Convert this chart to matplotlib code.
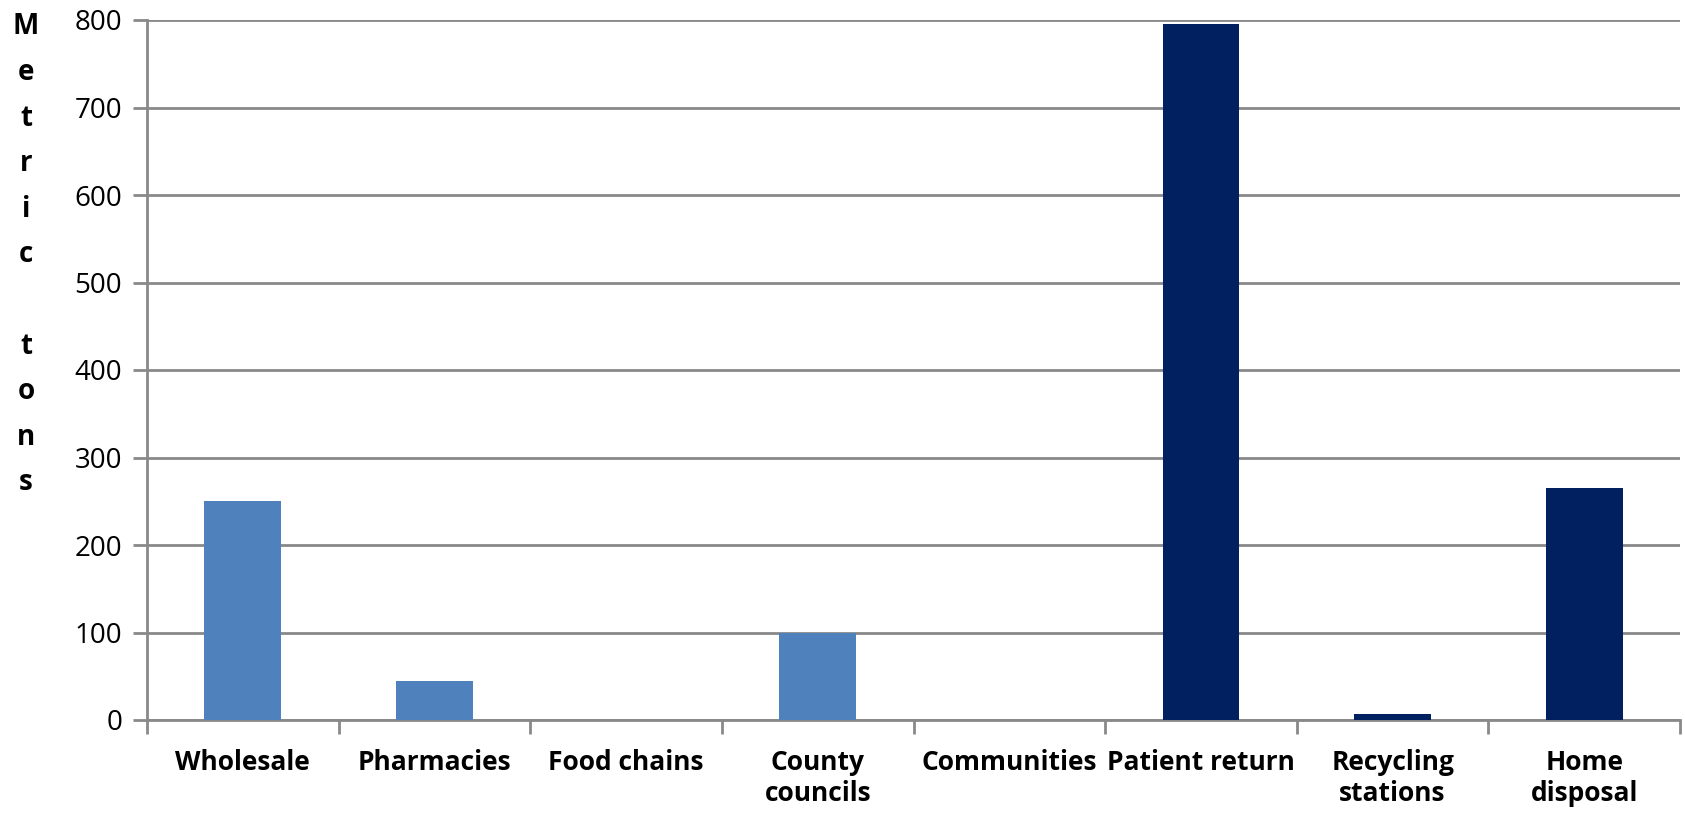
import matplotlib
matplotlib.use("Agg")
import matplotlib.pyplot as plt
import numpy as np

categories = ["Wholesale", "Pharmacies", "Food chains", "County\ncouncils",
              "Communities", "Patient return", "Recycling\nstations", "Home\ndisposal"]
values = [250, 45, 0, 100, 0, 795, 7, 265]
bar_colors = ["#4F81BD", "#4F81BD", "#4F81BD", "#4F81BD",
              "#4F81BD", "#002060", "#002060", "#002060"]
y_ticks = [0, 100, 200, 300, 400, 500, 600, 700, 800]
y_label = "Metric tons"

W, H = 1685, 814
fig = plt.figure(figsize=(W / 100, H / 100), dpi=100)
ax = fig.add_axes([147 / W, 1 - 720 / H, (1680 - 147) / W, (720 - 20) / H])

x = np.arange(len(categories))
ax.bar(x, values, width=0.4, color=bar_colors, zorder=3)

grid_c = "#898989"
ax.set_xlim(-0.5, len(categories) - 0.5)
ax.set_ylim(0, 800)
ax.set_yticks(y_ticks)
ax.set_yticklabels([str(v) for v in y_ticks], fontsize=20, family="Open Sans")
ax.yaxis.grid(True, color=grid_c, linewidth=2, zorder=0)

ax.set_xticks(np.arange(-0.5, len(categories)), labels=[""] * (len(categories) + 1))
ax.set_xticks(x, labels=categories, minor=True)
ax.tick_params(axis="x", which="minor", length=0, pad=21)
ax.tick_params(axis="x", which="major", length=10, width=2, color=grid_c)
ax.tick_params(axis="y", length=10, width=2, color=grid_c, pad=8)
for lab in ax.get_xticklabels(minor=True):
    lab.set_fontsize(19)
    lab.set_fontweight("bold")
    lab.set_family("Open Sans")
    lab.set_linespacing(1.2)
    lab.set_ha("center")

for s in ["top", "right"]:
    ax.spines[s].set_visible(False)
for s in ["left", "bottom"]:
    ax.spines[s].set_color(grid_c)
    ax.spines[s].set_linewidth(2)

# stacked vertical axis label
letters = list(y_label)
for i, ch in enumerate(letters):
    if ch == " ":
        continue
    fig.text(26 / W, 1 - (27 + i * 45.6) / H, ch, ha="center", va="center",
             fontsize=20, fontweight="bold", family="Open Sans")

fig.savefig("out.png", dpi=100)
